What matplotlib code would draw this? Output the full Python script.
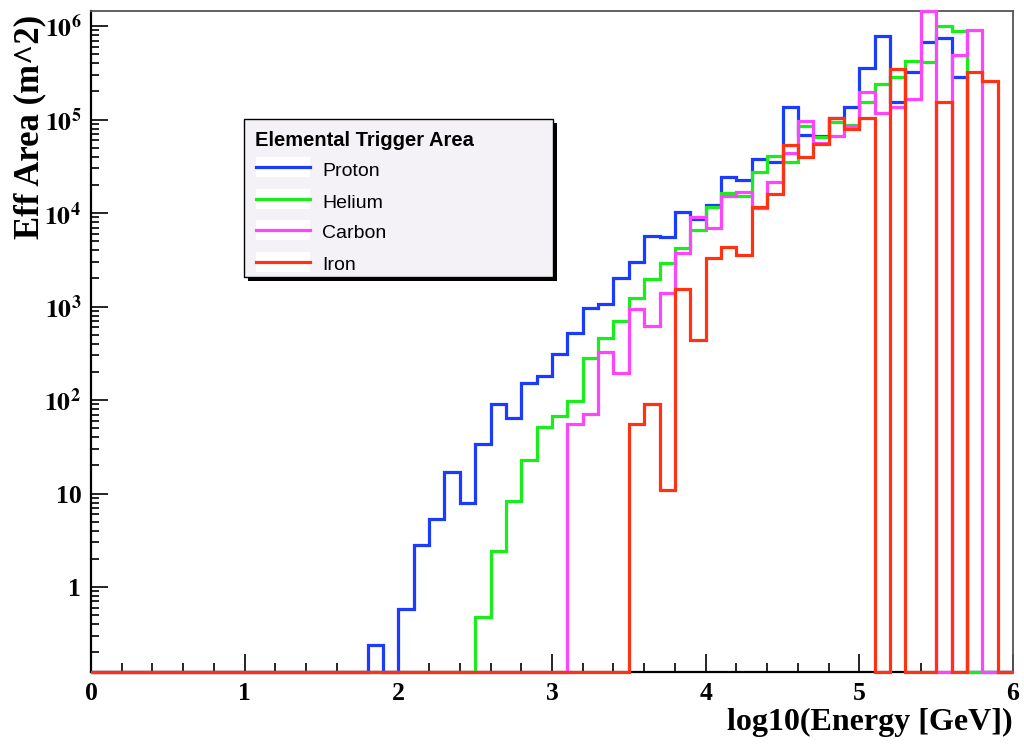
import numpy as np
import matplotlib
matplotlib.use("Agg")
import matplotlib.pyplot as plt
from matplotlib.patches import Rectangle
from matplotlib.lines import Line2D
from matplotlib.ticker import MultipleLocator, FixedLocator, FixedFormatter, LogLocator, NullFormatter

plt.rcParams['mathtext.fontset'] = 'stix'

# binning: log10(E) from 0 to 6 in steps of 0.1
edges = np.round(np.arange(0, 61) * 0.1, 1)

# effective area per bin, listed from the first filled bin onwards (m^2)
proton_start = 1.8
proton = [0.24, 0, 0.58, 2.8, 5.3, 17, 8.0, 34, 91, 64, 151, 180,
          308, 517, 960, 1064, 2000, 3000, 5680, 5500, 10300, 8550,
          12100, 24500, 22700, 37500, 34800, 135000, 68000, 66000, 105000, 135000,
          358000, 781000, 155000, 320000, 669000, 750000, 287000, 0, 0, 0]

helium_start = 2.5
helium = [0.48, 2.44, 8.4, 23, 51,
          68, 98, 279, 457, 700, 1224, 1955, 2900, 4200, 6580,
          11600, 16500, 15400, 27200, 40700, 34800, 85600, 64500, 94800, 88000,
          155000, 240000, 287000, 423000, 409000, 1000000, 890000, 0, 0, 0]

carbon_start = 3.1
carbon = [55, 71, 329, 193, 940, 618, 1384, 3720, 9130,
          6860, 15200, 16900, 11200, 21600, 44200, 97000, 56000, 67000, 85000,
          195000, 118000, 135000, 165000, 1440000, 0, 490000, 913000, 0, 0]

iron_start = 3.5
iron = [56, 91, 10.9, 1530, 438,
        3300, 4360, 3550, 11700, 16000, 53000, 40000, 55000, 105000, 80000,
        105000, 0, 344000, 0, 0, 155000, 0, 325000, 260000, 0]

names = ["Proton", "Helium", "Carbon", "Iron"]
colors = ["#1a3cff", "#1aee1a", "#ff44ff", "#ff3311"]

ymin, ymax = 0.1233, 1.45e6
W, H = 1024, 753


def full_hist(start, vals):
    h = np.zeros(len(edges) - 1)
    i0 = int(round(start / 0.1))
    h[i0:i0 + len(vals)] = vals
    # empty bins sit on the lower edge of the log axis
    return np.where(h > 0, h, ymin)


def px(x, y):
    return x / W, 1 - y / H


fig = plt.figure(figsize=(W / 100, H / 100), dpi=100)
fig.patch.set_facecolor("white")
l, b = px(91, 672)
r, t = px(1013, 11)
ax = fig.add_axes([l, b, r - l, t - b])

for (start, vals), c in zip([(proton_start, proton), (helium_start, helium),
                             (carbon_start, carbon), (iron_start, iron)], colors):
    ax.stairs(full_hist(start, vals), edges, baseline=None, color=c, lw=2.3,
              zorder=3, clip_on=False, joinstyle="miter")

ax.set_yscale("log")
ax.set_xlim(0, 6)
ax.set_ylim(ymin, ymax)

for s in ["top", "right"]:
    ax.spines[s].set_color("#555555")
    ax.spines[s].set_linewidth(1.3)
for s in ["left", "bottom"]:
    ax.spines[s].set_color("black")
    ax.spines[s].set_linewidth(1.6)

ax.xaxis.set_major_locator(MultipleLocator(1))
ax.xaxis.set_minor_locator(MultipleLocator(0.2))
ax.yaxis.set_major_locator(FixedLocator([1, 10, 1e2, 1e3, 1e4, 1e5, 1e6]))
ax.yaxis.set_major_formatter(FixedFormatter(
    ["1", "10", r"$\mathbf{10^{2}}$", r"$\mathbf{10^{3}}$", r"$\mathbf{10^{4}}$",
     r"$\mathbf{10^{5}}$", r"$\mathbf{10^{6}}$"]))
ax.yaxis.set_minor_locator(LogLocator(base=10, subs=np.arange(2, 10), numticks=20))
ax.yaxis.set_minor_formatter(NullFormatter())

ax.tick_params(axis="x", which="major", direction="in", length=13, width=1.2, pad=7)
ax.tick_params(axis="x", which="minor", direction="in", length=6.5, width=1.2)
ax.tick_params(axis="y", which="major", direction="in", length=12, width=1.2, pad=7)
ax.tick_params(axis="y", which="minor", direction="in", length=6, width=1.2)
for lab in ax.get_xticklabels() + ax.get_yticklabels():
    lab.set_fontfamily("Liberation Serif")
    lab.set_fontweight("bold")
    lab.set_fontsize(18.5)

fig.text(*px(30, 15), "Eff Area (m^2)", rotation=90, ha="center", va="top",
         fontfamily="Liberation Serif", fontweight="bold", fontsize=25)
fig.text(*px(1013, 722), "log10(Energy [GeV])", ha="right", va="center",
         fontfamily="Liberation Serif", fontweight="bold", fontsize=23)

# legend box with drop shadow
bx0, by0, bx1, by1 = 244, 119, 553, 277
sh = 4
x0, y0 = px(bx0 + sh, by1 + sh)
fig.add_artist(Rectangle((x0, y0), (bx1 - bx0) / W, (by1 - by0) / H,
                         transform=fig.transFigure, facecolor="black",
                         edgecolor="none", zorder=5))
x0, y0 = px(bx0, by1)
fig.add_artist(Rectangle((x0, y0), (bx1 - bx0) / W, (by1 - by0) / H,
                         transform=fig.transFigure, facecolor="#f4f2f6",
                         edgecolor="black", lw=1.0, zorder=6))
fig.text(*px(255, 140), "Elemental Trigger Area", ha="left", va="center",
         fontfamily="Liberation Sans", fontweight="bold", fontsize=14.5, zorder=7)

rows = [167, 199, 230, 262]
for name, c, yy in zip(names, colors, rows):
    rx, ry = px(256, yy + 10)
    fig.add_artist(Rectangle((rx, ry), 54 / W, 20 / H, transform=fig.transFigure,
                             facecolor="white", edgecolor="none", zorder=7))
    fig.add_artist(Line2D([256 / W, 310 / W], [1 - yy / H] * 2,
                          transform=fig.transFigure, color=c, lw=2.3, zorder=8))
    fig.text(*px(322, yy + 4), name, ha="left", va="center",
             fontfamily="Liberation Sans", fontsize=14, zorder=8)

fig.savefig("out.png", dpi=100)
